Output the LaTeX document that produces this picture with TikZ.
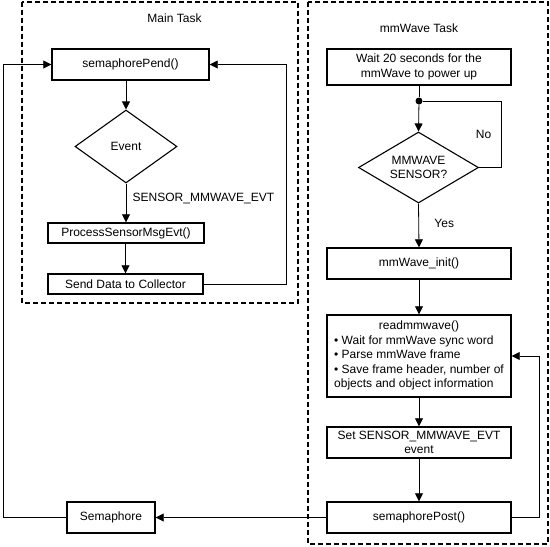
\documentclass[tikz,border=0pt]{standalone}
\usepackage{fontspec}
\setmainfont{Liberation Sans}
\usetikzlibrary{shapes.geometric}
\usetikzlibrary{arrows.meta}
\usetikzlibrary{positioning}
\usetikzlibrary{calc}

\begin{document}
\begin{tikzpicture}[x=1pt,y=-1pt,font=\fontsize{12}{14.5}\selectfont]
\tikzstyle{tache}=[draw,line width=1.5pt,dash pattern=on 5pt off 3pt]
\tikzstyle{instruct}=[rectangle,draw,line width=1.4pt,fill=white,inner sep=0pt,align=center]
\tikzstyle{test}=[diamond,draw,line width=1.1pt,fill=white,inner sep=-4pt,align=center]
\tikzstyle{titre}=[inner sep=1pt]
%style des fleches
\tikzstyle{suite}=[-{Triangle[length=8pt,width=8pt]},line width=0.8pt]
\tikzstyle{lien}=[line width=0.8pt]
\useasboundingbox (0,0) rectangle (550,547);
%cadres des taches
\draw[tache] (22,2) rectangle (298,303);
\draw[tache] (308,2) rectangle (548,544);
\node[titre] (titremain) at (174.5,18) {Main Task};
\node[titre] (titremmw) at (419,28) {mmWave Task};
%placement des noeuds
\node[instruct,minimum width=157pt,minimum height=31pt] (pend) at (130.5,64.5) {semaphorePend()};
\node[test,aspect=1.4,minimum width=102pt,minimum height=73pt] (event) at (126,146.5) {Event};
\node[instruct,minimum width=156pt,minimum height=20pt] (proc) at (126,233) {ProcessSensorMsgEvt()};
\node[instruct,minimum width=155pt,minimum height=20pt] (send) at (125.5,284) {Send Data to Collector};
\node[instruct,minimum width=88pt,minimum height=31pt] (sem) at (111,517.5) {Semaphore};
\node[instruct,minimum width=184pt,minimum height=36pt] (wait) at (419,67) {Wait 20 seconds for the\\mmWave to power up};
\node[circle,fill,inner sep=0pt,minimum size=7pt] (noeud) at (419,101) {};
\node[test,aspect=1.67,minimum width=120pt,minimum height=71pt] (sensor) at (418.5,167.5) {MMWAVE\\SENSOR?};
\node[instruct,minimum width=184pt,minimum height=31pt] (init) at (419,263.5) {mmWave\_init()};
\node[instruct,minimum width=184pt,minimum height=82pt] (read) at (419,356) {%
\begin{tabular}{@{}l@{}}\multicolumn{1}{@{}c@{}}{readmmwave()}\\
• Wait for mmWave sync word\\
• Parse mmWave frame\\
• Save frame header, number of\\
objects and object information\end{tabular}};
\node[instruct,minimum width=184pt,minimum height=31pt] (set) at (419,442.5) {Set SENSOR\_MMWAVE\_EVT\\event};
\node[instruct,minimum width=184pt,minimum height=31pt] (post) at (419,517.5) {semaphorePost()};
%placement des fleches
\draw[suite] (event.north |- pend.south) -- (event.north);
\draw[suite] (event.south) -- (event.south |- proc.north)
  node[pos=0.38,right=3pt] {SENSOR\_MMWAVE\_EVT};
\draw[suite] (proc.south -| send.north) -- (send.north);
\draw[suite] (send.east) -- ++(82.5,0) |- (pend.east);
\draw[suite] (sem.west) -- ++(-63,0) |- (pend.west);
\draw[suite] (post.west) -- (sem.east);
\draw[lien] (wait.south) -- (noeud);
\draw[suite] (noeud) -- (sensor.north);
\draw[lien] (sensor.east) -- ++(22,0) |- (noeud)
  node[pos=0.25,left=6pt] {No};
\draw[suite] (sensor.south) -- (init.north) node[pos=0.45,right=12pt] {Yes};
\draw[suite] (init) -- (read);
\draw[suite] (read) -- (set);
\draw[suite] (set) -- (post);
\draw[suite] (post.east) -- ++(28,0) |- (read.east);
\end{tikzpicture}
\end{document}
